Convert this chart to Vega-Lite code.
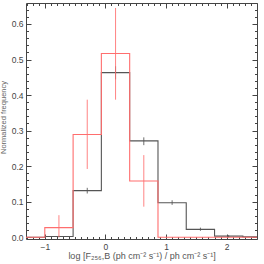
{
  "$schema": "https://vega.github.io/schema/vega-lite/v6.json",
  "width": 231,
  "height": 236,
  "autosize": {"type": "none"},
  "padding": {"left": 26, "top": 3, "right": 7, "bottom": 25},
  "background": "white",
  "config": {
    "view": {"stroke": "#444", "strokeWidth": 1},
    "axis": {
      "labelFont": "Liberation Sans",
      "titleFont": "Liberation Sans",
      "labelColor": "#444",
      "titleColor": "#666",
      "titleFontWeight": "normal",
      "tickColor": "#444",
      "domain": false,
      "grid": false
    }
  },
  "datasets": {
    "hist": [
      {"series": "all", "x": -1.31, "y": 0.0},
      {"series": "all", "x": -1.0, "y": 0.002},
      {"series": "all", "x": -0.533, "y": 0.131},
      {"series": "all", "x": -0.067, "y": 0.463},
      {"series": "all", "x": 0.4, "y": 0.271},
      {"series": "all", "x": 0.867, "y": 0.097},
      {"series": "all", "x": 1.333, "y": 0.022},
      {"series": "all", "x": 1.8, "y": 0.003},
      {"series": "all", "x": 2.267, "y": 0.001},
      {"series": "all", "x": 2.5, "y": 0.001},
      {"series": "sub", "x": -1.31, "y": 0.0},
      {"series": "sub", "x": -1.0, "y": 0.027},
      {"series": "sub", "x": -0.533, "y": 0.289},
      {"series": "sub", "x": -0.067, "y": 0.517},
      {"series": "sub", "x": 0.4, "y": 0.158},
      {"series": "sub", "x": 0.867, "y": 0.0},
      {"series": "sub", "x": 2.5, "y": 0.0}
    ],
    "err": [
      {"series": "all", "x": -0.767, "lo": 0.0, "hi": 0.004},
      {"series": "all", "x": -0.3, "lo": 0.123, "hi": 0.139},
      {"series": "all", "x": 0.167, "lo": 0.444, "hi": 0.481},
      {"series": "all", "x": 0.633, "lo": 0.259, "hi": 0.281},
      {"series": "all", "x": 1.1, "lo": 0.091, "hi": 0.104},
      {"series": "all", "x": 1.567, "lo": 0.018, "hi": 0.027},
      {"series": "all", "x": 2.033, "lo": 0.0, "hi": 0.006},
      {"series": "sub", "x": -0.767, "lo": 0.0, "hi": 0.062},
      {"series": "sub", "x": -0.3, "lo": 0.192, "hi": 0.387},
      {"series": "sub", "x": 0.167, "lo": 0.387, "hi": 0.645},
      {"series": "sub", "x": 0.633, "lo": 0.086, "hi": 0.231}
    ]
  },
  "layer": [
    {
      "data": {"name": "hist"},
      "mark": {"type": "line", "interpolate": "step-after", "strokeWidth": 1.1, "clip": true},
      "encoding": {
        "x": {
          "field": "x", "type": "quantitative",
          "scale": {"domain": [-1.31, 2.5], "nice": false, "zero": false},
          "axis": {
            "orient": "bottom",
            "values": [-1.3,-1.2,-1.1,-1,-0.9,-0.8,-0.7,-0.6,-0.5,-0.4,-0.3,-0.2,-0.1,0,0.1,0.2,0.3,0.4,0.5,0.6,0.7,0.8,0.9,1,1.1,1.2,1.3,1.4,1.5,1.6,1.7,1.8,1.9,2,2.1,2.2,2.3,2.4,2.5],
            "labelExpr": "abs(datum.value - round(datum.value)) < 0.001 ? format(datum.value, 'd') : ''",
            "tickSize": {"condition": {"test": "abs(datum.value - round(datum.value)) < 0.001", "value": -5}, "value": -2.5},
            "labelPadding": 8,
            "labelFontSize": 8.5,
            "labelFlush": false,
            "title": "log [F₂₅₆,B (ph cm⁻² s⁻¹) / ph cm⁻² s⁻¹]",
            "titleFontSize": 9,
            "titleColor": "#555",
            "titlePadding": 1
          }
        },
        "y": {
          "field": "y", "type": "quantitative",
          "scale": {"domain": [-0.005, 0.659], "nice": false, "zero": false},
          "axis": {
            "orient": "left",
            "values": [0,0.02,0.04,0.06,0.08,0.1,0.12,0.14,0.16,0.18,0.2,0.22,0.24,0.26,0.28,0.3,0.32,0.34,0.36,0.38,0.4,0.42,0.44,0.46,0.48,0.5,0.52,0.54,0.56,0.58,0.6,0.62,0.64],
            "labelExpr": "abs(datum.value*10 - round(datum.value*10)) < 0.001 ? format(datum.value, '.1f') : ''",
            "tickSize": {"condition": {"test": "abs(datum.value*10 - round(datum.value*10)) < 0.001", "value": -5}, "value": -2.5},
            "labelPadding": 8,
            "labelFontSize": 8.5,
            "title": "Normalized frequency",
            "titleFontSize": 7.5,
            "titlePadding": 4,
            "titleY": 114
          }
        },
        "color": {
          "field": "series", "type": "nominal",
          "scale": {"domain": ["all", "sub"], "range": ["#555555", "#ff6e6e"]},
          "legend": null
        }
      }
    },
    {
      "data": {"name": "err"},
      "mark": {"type": "rule", "strokeWidth": 1, "clip": true},
      "encoding": {
        "x": {
          "field": "x", "type": "quantitative",
          "axis": {
            "orient": "top",
            "values": [-1.3,-1.2,-1.1,-1,-0.9,-0.8,-0.7,-0.6,-0.5,-0.4,-0.3,-0.2,-0.1,0,0.1,0.2,0.3,0.4,0.5,0.6,0.7,0.8,0.9,1,1.1,1.2,1.3,1.4,1.5,1.6,1.7,1.8,1.9,2,2.1,2.2,2.3,2.4,2.5],
            "labels": false,
            "tickSize": {"condition": {"test": "abs(datum.value - round(datum.value)) < 0.001", "value": -5}, "value": -2.5},
            "title": null
          }
        },
        "y": {
          "field": "lo", "type": "quantitative",
          "axis": {
            "orient": "right",
            "values": [0,0.02,0.04,0.06,0.08,0.1,0.12,0.14,0.16,0.18,0.2,0.22,0.24,0.26,0.28,0.3,0.32,0.34,0.36,0.38,0.4,0.42,0.44,0.46,0.48,0.5,0.52,0.54,0.56,0.58,0.6,0.62,0.64],
            "labels": false,
            "tickSize": {"condition": {"test": "abs(datum.value*10 - round(datum.value*10)) < 0.001", "value": -5}, "value": -2.5},
            "title": null
          }
        },
        "y2": {"field": "hi"},
        "color": {
          "field": "series", "type": "nominal",
          "scale": {"domain": ["all", "sub"], "range": ["#555555", "#ff6e6e"]},
          "legend": null
        },
        "opacity": {"value": 0.85}
      }
    }
  ],
  "resolve": {"axis": {"x": "independent", "y": "independent"}}
}
